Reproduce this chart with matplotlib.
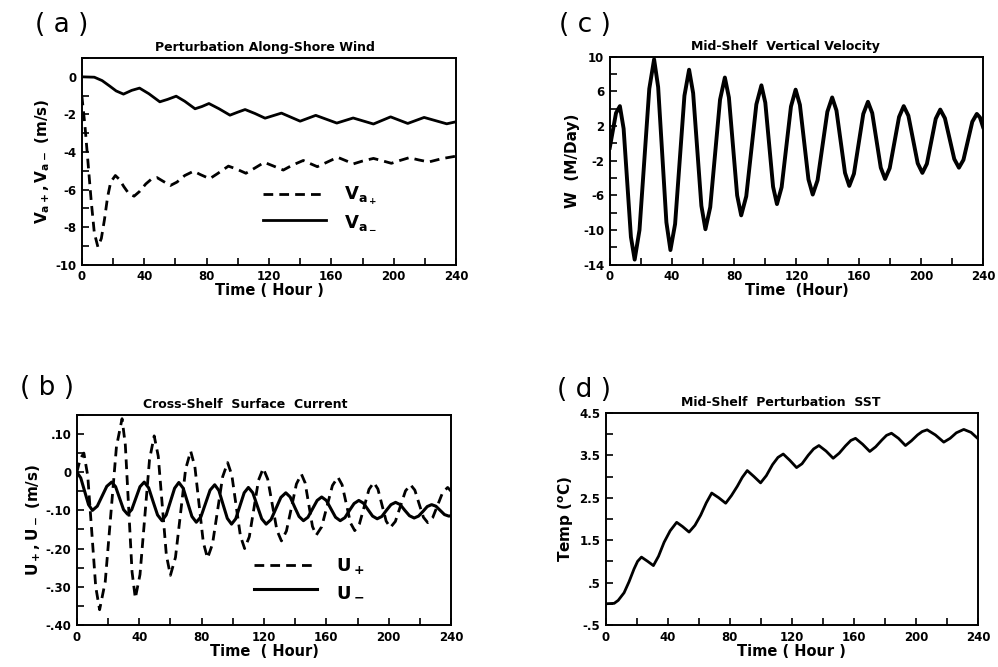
import numpy as np
import matplotlib
matplotlib.use('Agg')
import matplotlib.pyplot as plt
from matplotlib.ticker import MultipleLocator, FixedLocator

# ---------------------------- DATA ----------------------------#
# (a) perturbation along-shore wind (m/s)
t_va_minus = [0, 8, 13, 18, 22, 26.7, 32, 37, 43, 50, 55, 60.5, 66, 72.6, 77, 81.5, 88, 95,
              100, 104.7, 111, 117.5, 128, 140, 150, 163.5, 174, 187, 198, 209, 219.5, 234, 240]
va_minus = [0, -0.02, -0.2, -0.5, -0.75, -0.92, -0.72, -0.6, -0.9, -1.33, -1.2, -1.03, -1.3,
            -1.7, -1.58, -1.42, -1.7, -2.04, -1.88, -1.74, -1.95, -2.2, -1.93, -2.36, -2.05,
            -2.46, -2.19, -2.51, -2.13, -2.48, -2.16, -2.5, -2.39]

t_va_plus = [0, 2, 4, 6, 8, 10.3, 12.5, 14.5, 16.5, 18.5, 21.5, 24, 27, 30, 33.5, 37, 41, 44.5,
             48.2, 52, 56.8, 61, 66, 71.7, 76, 82, 87, 94, 99, 105.2, 111, 117, 123, 129.2,
             135, 142, 146, 151, 157, 164, 169, 174.2, 180, 187, 192, 198.5, 204, 210, 216,
             222.5, 231, 240]
va_plus = [-1.0, -2.6, -4.6, -6.6, -8.3, -9.05, -8.6, -7.6, -6.4, -5.6, -5.25, -5.45, -5.85,
           -6.2, -6.35, -6.1, -5.7, -5.45, -5.36, -5.55, -5.78, -5.6, -5.25, -5.02, -5.2,
           -5.42, -5.15, -4.75, -4.9, -5.13, -4.85, -4.55, -4.75, -4.96, -4.7, -4.45, -4.6,
           -4.78, -4.55, -4.28, -4.45, -4.63, -4.48, -4.34, -4.45, -4.6, -4.45, -4.3, -4.42,
           -4.53, -4.35, -4.22]

# (b) cross-shelf surface current (m/s)
t_u_plus = [0, 2.2, 4.5, 7.0, 9.55, 12.1, 14.6, 18.2, 21.8, 25.4, 29, 31.1, 33.25, 35.4, 37.5,
            40.5, 43.55, 46.6, 49.6, 52.2, 54.8, 57.4, 60, 63.25, 66.5, 69.75, 73, 75.7, 78.4,
            81.1, 83.8, 87.0, 90.25, 93.5, 96.7, 99.4, 102.15, 104.9, 107.6, 110.6, 113.55,
            116.5, 119.5, 122.4, 125.35, 128.3, 131.2, 134.4, 137.6, 140.8, 144, 146.4,
            148.75, 151.1, 153.5, 157.0, 160.45, 163.9, 167.4, 170.1, 172.8, 175.5, 178.2,
            181.25, 184.3, 187.35, 190.4, 193.05, 195.7, 198.35, 201, 204.25, 207.5, 210.75,
            214, 216.75, 219.5, 222.25, 225, 228.2, 231.4, 234.6, 237.8, 240]
u_plus = [0.0, 0.035, 0.05, -0.01, -0.155, -0.30, -0.36, -0.287, -0.11, 0.067, 0.14, 0.071,
          -0.095, -0.261, -0.33, -0.268, -0.118, 0.033, 0.095, 0.042, -0.088, -0.217, -0.27,
          -0.223, -0.108, 0.008, 0.055, 0.014, -0.085, -0.184, -0.225, -0.188, -0.10, -0.012,
          0.025, -0.008, -0.088, -0.167, -0.20, -0.169, -0.095, -0.021, 0.01, -0.018, -0.085,
          -0.152, -0.18, -0.154, -0.093, -0.031, -0.005, -0.028, -0.085, -0.142, -0.165,
          -0.143, -0.089, -0.035, -0.013, -0.033, -0.083, -0.133, -0.153, -0.135, -0.09,
          -0.045, -0.027, -0.044, -0.086, -0.128, -0.145, -0.129, -0.089, -0.049, -0.033,
          -0.047, -0.083, -0.118, -0.132, -0.119, -0.086, -0.053, -0.04, -0.05]

t_u_minus = [0, 2.5, 5, 7.5, 10, 13.1, 16.15, 19.2, 22.3, 24.85, 27.4, 29.95, 32.5, 35.2, 37.85,
             40.5, 43.2, 46.05, 48.9, 51.75, 54.6, 57.3, 60, 62.7, 65.4, 68.2, 71, 73.8, 76.6,
             79.55, 82.5, 85.45, 88.4, 91.1, 93.8, 96.5, 99.2, 101.9, 104.6, 107.3, 110,
             112.85, 115.7, 118.55, 121.4, 124.55, 127.7, 130.85, 134, 136.8, 139.65, 142.5,
             145.3, 148.2, 151.15, 154.1, 157, 160, 162.95, 165.9, 168.9, 171.9, 174.85,
             177.8, 180.8, 183.75, 186.7, 189.65, 192.6, 195.55, 198.5, 201.45, 204.4, 207.4,
             210.35, 213.3, 216.3, 219.1, 221.9, 224.7, 227.5, 230.25, 233, 235.75, 238.5, 240]
u_minus = [0.0, -0.015, -0.05, -0.085, -0.10, -0.089, -0.063, -0.037, -0.026, -0.038, -0.068,
           -0.098, -0.11, -0.098, -0.068, -0.038, -0.026, -0.041, -0.077, -0.112, -0.127,
           -0.112, -0.077, -0.042, -0.027, -0.042, -0.079, -0.116, -0.131, -0.117, -0.082,
           -0.047, -0.033, -0.048, -0.085, -0.121, -0.136, -0.122, -0.088, -0.054, -0.04,
           -0.054, -0.088, -0.122, -0.136, -0.124, -0.095, -0.066, -0.054, -0.065, -0.091,
           -0.116, -0.127, -0.118, -0.096, -0.074, -0.065, -0.074, -0.096, -0.118, -0.127,
           -0.119, -0.1, -0.082, -0.074, -0.081, -0.098, -0.115, -0.122, -0.116, -0.1, -0.085,
           -0.079, -0.085, -0.1, -0.114, -0.12, -0.115, -0.103, -0.09, -0.085, -0.089, -0.1,
           -0.111, -0.115, -0.114]

# (c) mid-shelf vertical velocity (m/day)
t_w = [0, 2, 4, 6.5, 8.9, 11.25, 13.6, 16, 19.1, 22.25, 25.4, 28.5, 31.1, 33.75, 36.4, 39, 42,
       45, 48, 51, 53.6, 56.25, 58.9, 61.5, 64.6, 67.75, 70.9, 74, 76.6, 79.25, 81.9, 84.5,
       87.75, 91, 94.25, 97.5, 100, 102.5, 105, 107.5, 110.5, 113.5, 116.5, 119.5, 122.25,
       125, 127.75, 130.5, 133.6, 136.75, 139.9, 143, 145.75, 148.5, 151.25, 154, 157, 160,
       163, 166, 168.75, 171.5, 174.25, 177, 180, 183, 186, 189, 192, 195, 198, 201, 203.9,
       206.75, 209.6, 212.5, 215.5, 218.5, 221.5, 224.5, 227.4, 230.25, 233.1, 236, 238, 240]
w = [-0.5, 1.5, 3.5, 4.3, 1.7, -4.55, -10.8, -13.4, -10.0, -1.85, 6.3, 9.7, 6.5, -1.3, -9.1,
     -12.3, -9.3, -1.9, 5.5, 8.5, 5.8, -0.7, -7.2, -9.9, -7.35, -1.15, 5.05, 7.6, 5.3, -0.35,
     -6.0, -8.3, -6.1, -0.8, 4.5, 6.7, 4.7, -0.15, -5.0, -7.0, -5.05, -0.4, 4.25, 6.2, 4.45,
     0.15, -4.15, -5.9, -4.25, -0.3, 3.65, 5.3, 3.8, 0.2, -3.4, -4.9, -3.5, -0.05, 3.4, 4.8,
     3.5, 0.35, -2.8, -4.1, -2.85, 0.1, 3.05, 4.3, 3.2, 0.45, -2.3, -3.4, -2.35, 0.25, 2.85,
     3.9, 2.9, 0.55, -1.8, -2.8, -1.9, 0.3, 2.5, 3.4, 3.0, 1.9]

# (d) mid-shelf perturbation SST (deg C)
t_sst = [0, 5.4, 8, 11.8, 15, 18.2, 20.5, 23, 27, 30.7, 34, 37.6, 41.5, 45.7, 49.5, 53.7, 57.5,
         61.2, 64.8, 68.3, 72.8, 77.3, 81, 84.8, 88, 91.2, 95.5, 99.8, 103.5, 107.5, 111,
         114.4, 118.7, 123, 126.5, 130.5, 134, 137.4, 142, 146.6, 150.5, 154.5, 158, 161,
         165.6, 170.2, 174, 178, 181, 184.2, 188.7, 193.2, 197, 201, 204, 207.2, 212.5,
         217.9, 222, 226, 230.8, 235.5, 240]
sst = [0.0, 0.01, 0.08, 0.26, 0.52, 0.82, 1.0, 1.1, 1.0, 0.9, 1.12, 1.45, 1.72, 1.92, 1.82,
       1.69, 1.85, 2.09, 2.38, 2.61, 2.5, 2.37, 2.55, 2.77, 2.98, 3.14, 3.0, 2.85, 3.02, 3.28,
       3.45, 3.53, 3.38, 3.21, 3.3, 3.5, 3.65, 3.73, 3.6, 3.43, 3.55, 3.72, 3.85, 3.9, 3.76,
       3.59, 3.7, 3.86, 3.97, 4.02, 3.9, 3.73, 3.84, 3.98, 4.06, 4.1, 3.98, 3.81, 3.9, 4.03,
       4.11, 4.04, 3.89]

x_ticks = [0, 40, 80, 120, 160, 200, 240]
c_ticks = [-14, -10, -6, -2, 2, 6, 10]
b_ticks = [0.10, 0.0, -0.10, -0.20, -0.30, -0.40]
b_tick_labels = ['.10', '0', '-.10', '-.20', '-.30', '-.40']
d_ticks = [-0.5, 0.5, 1.5, 2.5, 3.5, 4.5]
d_tick_labels = ['-.5', '.5', '1.5', '2.5', '3.5', '4.5']


def style_axes(ax, xlabel, ylabel, title, title_x=0.5):
    ax.set_xlim(0, 240)
    ax.xaxis.set_major_locator(FixedLocator(x_ticks))
    ax.xaxis.set_minor_locator(MultipleLocator(20))
    ax.tick_params(which='both', direction='in', length=5, width=1.2,
                   top=False, right=False, labelsize=8.5, pad=4)
    for s in ax.spines.values():
        s.set_linewidth(1.4)
    ax.set_xlabel(xlabel, fontsize=10.5, fontweight='bold', labelpad=0)
    ax.set_ylabel(ylabel, fontsize=11, fontweight='bold', labelpad=2)
    ax.set_title(title, fontsize=9, fontweight='bold', x=title_x, pad=5)
    for lab in ax.get_xticklabels() + ax.get_yticklabels():
        lab.set_fontweight('bold')


def shelf_plot():
    params = {'font.family': 'DejaVu Sans',
              'font.weight': 'bold',
              'axes.unicode_minus': False,
              'mathtext.fontset': 'custom',
              'mathtext.rm': 'DejaVu Sans:bold',
              'mathtext.it': 'DejaVu Sans:bold',
              'mathtext.default': 'rm'}
    plt.rcParams.update(params)

    fig = plt.figure(figsize=(9.98, 6.67), dpi=100)

    # ---- (a) ----
    ax = fig.add_axes([0.082, 0.603, 0.375, 0.310])
    p1, = ax.plot(t_va_plus, va_plus, color='black', linewidth=2.0, dashes=(3.5, 2.2))
    p2, = ax.plot(t_va_minus, va_minus, color='black', linewidth=2.0)
    ax.set_ylim(-10, 1)
    ax.yaxis.set_major_locator(MultipleLocator(2))
    ax.yaxis.set_minor_locator(MultipleLocator(1))
    style_axes(ax, 'Time ( Hour )', r'$V_{a+},V_{a-}$ (m/s)', 'Perturbation Along-Shore Wind', 0.49)
    ax.legend([p1, p2], [r'$V_{a_+}$', r'$V_{a_-}$'], loc='upper left',
              bbox_to_anchor=(0.46, 0.43), frameon=False, fontsize=13,
              handlelength=3.5, handletextpad=1.0, labelspacing=0.3, borderpad=0)
    fig.text(0.035, 0.962, '( a )', fontsize=19, fontweight='normal', va='center')

    # ---- (c) ----
    ax = fig.add_axes([0.611, 0.603, 0.374, 0.312])
    ax.plot(t_w, w, color='black', linewidth=2.8)
    ax.set_ylim(-14, 10)
    ax.set_yticks(c_ticks)
    ax.yaxis.set_minor_locator(MultipleLocator(2))
    style_axes(ax, 'Time  (Hour)', 'W  (M/Day)', 'Mid-Shelf  Vertical Velocity', 0.47)
    fig.text(0.56, 0.962, '( c )', fontsize=19, fontweight='normal', va='center')

    # ---- (b) ----
    ax = fig.add_axes([0.077, 0.063, 0.375, 0.315])
    p1, = ax.plot(t_u_plus, u_plus, color='black', linewidth=2.0, dashes=(3.5, 2.2))
    p2, = ax.plot(t_u_minus, u_minus, color='black', linewidth=2.2)
    ax.set_ylim(-0.40, 0.15)
    ax.set_yticks(b_ticks)
    ax.set_yticklabels(b_tick_labels)
    ax.yaxis.set_minor_locator(MultipleLocator(0.05))
    style_axes(ax, 'Time  ( Hour)', r'$U_+,U_-$ (m/s)', 'Cross-Shelf  Surface  Current', 0.45)
    ax.legend([p1, p2], [r'$U_+$', r'$U_-$'], loc='upper left',
              bbox_to_anchor=(0.45, 0.37), frameon=False, fontsize=13,
              handlelength=3.5, handletextpad=1.0, labelspacing=0.3, borderpad=0)
    fig.text(0.02, 0.418, '( b )', fontsize=19, fontweight='normal', va='center')

    # ---- (d) ----
    ax = fig.add_axes([0.607, 0.063, 0.373, 0.318])
    ax.plot(t_sst, sst, color='black', linewidth=2.0)
    ax.set_ylim(-0.5, 4.5)
    ax.set_yticks(d_ticks)
    ax.set_yticklabels(d_tick_labels)
    ax.yaxis.set_minor_locator(MultipleLocator(0.5))
    style_axes(ax, 'Time ( Hour )', r'Temp ($^o$C)', 'Mid-Shelf  Perturbation  SST', 0.47)
    fig.text(0.558, 0.416, '( d )', fontsize=19, fontweight='normal', va='center')

    fig.savefig('out.png', dpi=100)
    plt.close(fig)


if __name__ == "__main__":
    shelf_plot()
